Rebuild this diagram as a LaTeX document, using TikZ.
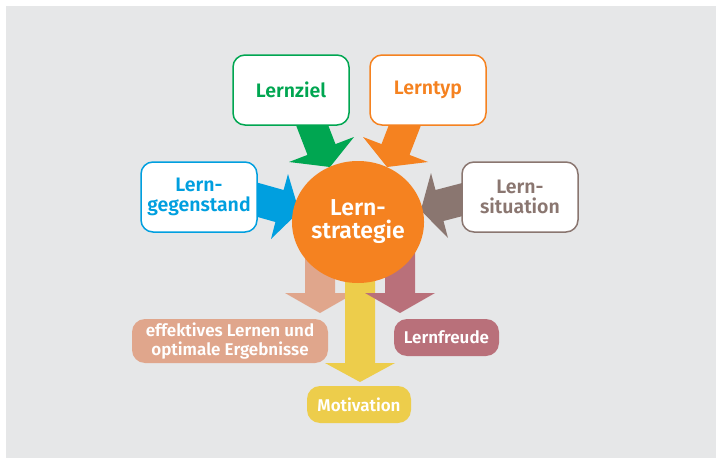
\documentclass[tikz,border=0pt]{standalone}
\usepackage{fontspec}
\setmainfont{Fira Sans}[BoldFont={Fira Sans SemiBold}]
\usetikzlibrary{shapes.geometric}
\definecolor{bgc}{HTML}{E6E7E8}
\definecolor{cgreen}{HTML}{00A651}
\definecolor{corange}{HTML}{F58220}
\definecolor{cblue}{HTML}{009FDF}
\definecolor{cbrown}{HTML}{8A7670}
\definecolor{csalmon}{HTML}{E0A68C}
\definecolor{cyellow}{HTML}{EDCD4B}
\definecolor{cmauve}{HTML}{B9707A}
\tikzset{
  topbox/.style={draw=#1, text=#1, fill=white, line width=1.5pt, rounded corners=12pt,
    minimum width=116pt, minimum height=70pt, align=center, inner sep=0pt,
    font=\fontsize{19.5}{20.5}\selectfont\bfseries},
  resbox/.style={fill=#1, text=white, rounded corners=13pt, align=center, inner sep=0pt,
    font=\fontsize{17}{18.5}\selectfont\bfseries},
  blockarrow/.style={fill=#1, draw=none}
}
\begin{document}
\begin{tikzpicture}[x=1pt,y=-1pt]
\useasboundingbox (0,0) rectangle (716,463);
\fill[bgc] (6,6) rectangle (716,458);

% incoming block arrows
\fill[cgreen] (293.1,117.7) -- (307.5,154.9) -- (289,162) -- (330,167) -- (354,137) -- (335.5,144.1) -- (321.1,106.9) -- cycle;
\fill[corange] (423.9,117.7) -- (409.5,154.9) -- (428,162) -- (387,167) -- (363,137) -- (381.5,144.1) -- (395.9,106.9) -- cycle;
\fill[cblue] (243.8,178.8) -- (283.6,190.0) -- (288,174) -- (299.2,211.7) -- (271,239) -- (275.4,222.0) -- (235.6,210.8) -- cycle;
\fill[cbrown] (474.2,179.9) -- (435.5,190.0) -- (431,173) -- (420.8,210.4) -- (448,238) -- (443.5,221.0) -- (482.2,210.9) -- cycle;

% outgoing block arrows
\fill[csalmon] (305,230) -- (305,293) -- (285,293) -- (320,313) -- (355,293) -- (335,293) -- (335,230) -- cycle;
\fill[cyellow] (345,230) -- (345,363) -- (325,363) -- (360,382) -- (395,363) -- (375,363) -- (375,230) -- cycle;
\fill[cmauve] (385,230) -- (385,293) -- (365,293) -- (400,313) -- (435,293) -- (415,293) -- (415,230) -- cycle;

% centre
\node[ellipse, fill=corange, minimum width=118pt, minimum height=122pt, inner sep=0pt,
  text=white, align=center, font=\fontsize{23}{23}\selectfont\bfseries] (strat) at (358,222) {Lern-\\strategie};

% input boxes
\node[topbox=cgreen] (ziel) at (291,90) {Lernziel};
\node[topbox=corange] (typ) at (428,90) {Lerntyp};
\node[topbox=cblue] (gegen) at (199,197) {Lern-\\gegenstand};
\node[topbox=cbrown] (sit) at (520,197) {Lern-\\situation};

% result boxes
\node[resbox=csalmon, minimum width=196pt, minimum height=44pt] (eff) at (230,341) {effektives Lernen und\\optimale Ergebnisse};
\node[resbox=cmauve, minimum width=105pt, minimum height=37pt] (freude) at (446.5,337.5) {Lernfreude};
\node[resbox=cyellow, minimum width=104pt, minimum height=37pt] (mot) at (359,404.5) {Motivation};
\end{tikzpicture}
\end{document}
